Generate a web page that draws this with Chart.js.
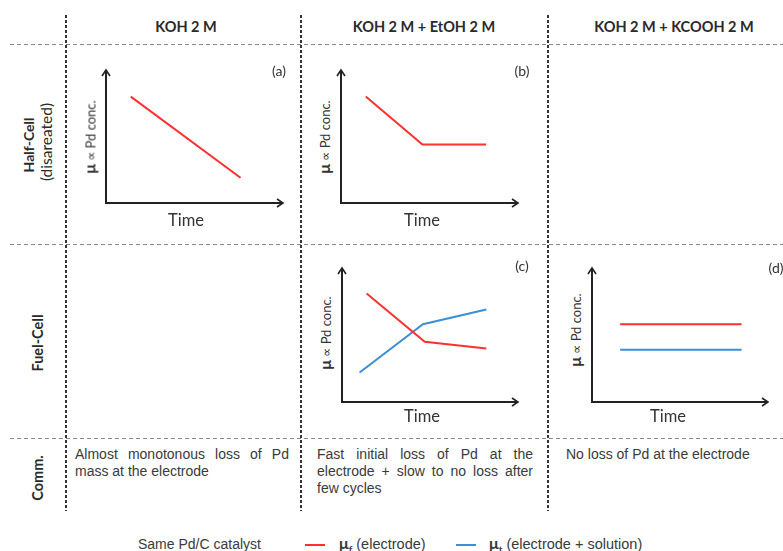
<!DOCTYPE html>
<html>
<head>
<meta charset="utf-8">
<script src="https://cdn.jsdelivr.net/npm/chart.js@4/dist/chart.umd.min.js"></script>
<style>
  html, body { margin:0; padding:0; background:#fff; }
  #root { position:relative; width:783px; height:551px; overflow:hidden; background:#fff; }
  .t { position:absolute; white-space:nowrap; color:#2a2a2a; }
  .hdr { font-family:Lato, "Open Sans", sans-serif; font-weight:700; font-size:14.5px; transform:translate(-50%,-50%); }
  .vert { transform:translate(-50%,-50%) rotate(-90deg); font-family:Lato, sans-serif; font-size:14.5px; }
  .time { font-family:Lato, sans-serif; font-size:16.5px; transform:translate(-50%,-50%); color:#333; }
  .ylab { font-family:Lato, sans-serif; font-size:13px; transform:translate(-50%,-50%) rotate(-90deg); color:#333; }
  .ylab b { font-size:16px; }
  .pl { font-family:Lato, sans-serif; font-size:14px; transform:translate(-50%,-50%); color:#333; }
  .com { font-family:"Liberation Sans", Arial, sans-serif; font-size:14px; color:#3a3a3a; }
  .jl { text-align:justify; text-align-last:justify; white-space:normal; }
  .hline { position:absolute; height:1px; background:repeating-linear-gradient(to right, #8a8a8a 0 4px, transparent 4px 7px); }
  .vline { position:absolute; width:2px; background:repeating-linear-gradient(to bottom, #333 0 3px, transparent 3px 5px); }
  canvas { position:absolute; }
  .leg { font-family:"Liberation Sans", Arial, sans-serif; font-size:14.5px; color:#3a3a3a; transform:translateY(-50%); }
  .leg b { font-family:Lato, sans-serif; font-size:16px; }
  .sw { position:absolute; height:2px; }
</style>
</head>
<body>
<div id="root"></div>
<script>
// ---------------- data ----------------
const columnHeaders = ['KOH 2 M', 'KOH 2 M + EtOH 2 M', 'KOH 2 M + KCOOH 2 M'];
const rowHeaders = ['Half-Cell', '(disareated)', 'Fuel-Cell', 'Comm.'];
const panelLabels = ['(a)', '(b)', '(c)', '(d)'];
const xAxisLabel = 'Time';
const yAxisLabel = '\u221D Pd conc.';
const comments = [
  ['Almost monotonous loss of Pd', 'mass at the electrode'],
  ['Fast initial loss of Pd at the', 'electrode + slow to no loss after', 'few cycles'],
  ['No loss of Pd at the electrode']
];
const legendTitle = 'Same Pd/C catalyst';
const seriesNames = ['(electrode)', '(electrode + solution)'];

// time (0-10) and μ (0-10) values read from the schematic
const aElectrodeTime = [1.4, 7.6];
const aElectrodeMu   = [8.0, 1.9];
const bElectrodeTime = [1.4, 4.6, 8.2];
const bElectrodeMu   = [8.0, 4.4, 4.4];
const cElectrodeTime = [1.4, 4.7, 8.2];
const cElectrodeMu   = [8.1, 4.5, 4.0];
const cTotalTime     = [1.0, 4.6, 8.2];
const cTotalMu       = [2.2, 5.8, 6.9];
const dElectrodeTime = [1.6, 8.5];
const dElectrodeMu   = [5.8, 5.8];
const dTotalTime     = [1.6, 8.5];
const dTotalMu       = [3.9, 3.9];

const RED = '#ff3030';
const BLUE = '#3a8fd8';

// ---------------- layout ----------------
const root = document.getElementById('root');
function addText(html, cls, x, y, extra) {
  const d = document.createElement('div');
  d.className = 't ' + cls;
  d.innerHTML = html;
  d.style.left = x + 'px';
  d.style.top = y + 'px';
  if (extra) Object.assign(d.style, extra);
  root.appendChild(d);
  return d;
}
function hline(y, x1, x2) {
  const d = document.createElement('div');
  d.className = 'hline';
  Object.assign(d.style, { left: x1 + 'px', top: y + 'px', width: (x2 - x1) + 'px' });
  root.appendChild(d);
}
function vline(x, y1, y2) {
  const d = document.createElement('div');
  d.className = 'vline';
  Object.assign(d.style, { left: (x - 1) + 'px', top: y1 + 'px', height: (y2 - y1) + 'px' });
  root.appendChild(d);
}

hline(44, 10, 783);
hline(244, 10, 783);
hline(438, 10, 783);
vline(66, 15, 511);
vline(301, 15, 511);
vline(548, 15, 511);

addText(columnHeaders[0], 'hdr', 186, 26);
addText(columnHeaders[1], 'hdr', 424, 26);
addText(columnHeaders[2], 'hdr', 674, 26);

addText(rowHeaders[0], 'vert', 28, 145, { fontWeight: 700, fontSize: '14px' });
addText(rowHeaders[1], 'vert', 46, 142, { fontSize: '15.5px' });
addText(rowHeaders[2], 'vert', 37, 343, { fontWeight: 700 });
addText(rowHeaders[3], 'vert', 37, 478, { fontWeight: 700 });

// comments
function commentBlock(lines, x, y, w) {
  lines.forEach((ln, i) => {
    const last = i === lines.length - 1;
    addText(ln, 'com' + (last ? '' : ' jl'), x, y + i * 17, { width: w + 'px' });
  });
}
commentBlock(comments[0], 75, 446, 214);
commentBlock(comments[1], 317, 446, 216);
commentBlock(comments[2], 566, 446, 200);

// legend
addText(legendTitle, 'leg', 138, 544, { fontSize: '14px' });
(function(){
  const s1 = document.createElement('div'); s1.className='sw';
  Object.assign(s1.style,{left:'305px',top:'544px',width:'20px',background:RED}); root.appendChild(s1);
  const s2 = document.createElement('div'); s2.className='sw';
  Object.assign(s2.style,{left:'456px',top:'544px',width:'20px',background:BLUE}); root.appendChild(s2);
})();
addText('<b>\u03BC<sub style="font-size:10px">f</sub></b> ' + seriesNames[0], 'leg', 339, 544);
addText('<b>\u03BC<sub style="font-size:10px">t</sub></b> ' + seriesNames[1], 'leg', 489, 544);

// ---------------- charts ----------------
const arrowAxes = {
  id: 'arrowAxes',
  afterDraw(chart) {
    const { ctx, scales } = chart;
    const x0 = scales.x.getPixelForValue(0), x1 = scales.x.getPixelForValue(10);
    const y0 = scales.y.getPixelForValue(0), y1 = scales.y.getPixelForValue(10);
    ctx.save();
    ctx.strokeStyle = '#222';
    ctx.lineWidth = 2;
    ctx.lineCap = 'butt';
    ctx.beginPath();
    ctx.moveTo(x0, y1); ctx.lineTo(x0, y0); ctx.lineTo(x1, y0);
    ctx.stroke();
    ctx.lineWidth = 1.6;
    ctx.beginPath();
    ctx.moveTo(x0 - 4, y1 + 6); ctx.lineTo(x0, y1); ctx.lineTo(x0 + 4, y1 + 6);
    ctx.moveTo(x1 - 6, y0 - 4); ctx.lineTo(x1, y0); ctx.lineTo(x1 - 6, y0 + 4);
    ctx.stroke();
    ctx.restore();
  }
};

function pts(xs, ys) { return xs.map((x, i) => ({ x, y: ys[i] })); }

function makePanel(box, seriesList) {
  const P = 8;
  const c = document.createElement('canvas');
  const w = box.R - box.L + 2 * P, h = box.B - box.T + 2 * P;
  c.width = w; c.height = h;
  Object.assign(c.style, { left: (box.L - P) + 'px', top: (box.T - P) + 'px', width: w + 'px', height: h + 'px' });
  root.appendChild(c);
  new Chart(c, {
    type: 'line',
    data: {
      datasets: seriesList.map(s => ({
        data: pts(s.x, s.y), borderColor: s.color, borderWidth: 2,
        pointRadius: 0, tension: 0, fill: false
      }))
    },
    options: {
      responsive: false, animation: false, devicePixelRatio: 1,
      layout: { padding: P },
      plugins: { legend: { display: false }, tooltip: { enabled: false } },
      scales: {
        x: { type: 'linear', min: 0, max: 10, display: false },
        y: { type: 'linear', min: 0, max: 10, display: false }
      }
    },
    plugins: [arrowAxes]
  });
}

makePanel({ L: 106, R: 283, T: 70, B: 203 }, [{ x: aElectrodeTime, y: aElectrodeMu, color: RED }]);
makePanel({ L: 341, R: 518, T: 70, B: 203 }, [{ x: bElectrodeTime, y: bElectrodeMu, color: RED }]);
makePanel({ L: 342, R: 518, T: 268, B: 402 }, [
  { x: cElectrodeTime, y: cElectrodeMu, color: RED },
  { x: cTotalTime, y: cTotalMu, color: BLUE }
]);
makePanel({ L: 592, R: 768, T: 268, B: 402 }, [
  { x: dElectrodeTime, y: dElectrodeMu, color: RED },
  { x: dTotalTime, y: dTotalMu, color: BLUE }
]);

// axis titles and panel letters
const ylab = '<b>\u03BC</b> ' + yAxisLabel;
addText(xAxisLabel, 'time', 186, 220);
addText(xAxisLabel, 'time', 422, 220);
addText(xAxisLabel, 'time', 422, 416);
addText(xAxisLabel, 'time', 668, 416);
addText(ylab, 'ylab', 89, 137);
addText(ylab, 'ylab', 323, 137);
addText(ylab, 'ylab', 324, 333);
addText(ylab, 'ylab', 574, 330);
addText(panelLabels[0], 'pl', 279, 70);
addText(panelLabels[1], 'pl', 522, 70);
addText(panelLabels[2], 'pl', 522, 265);
addText(panelLabels[3], 'pl', 776, 267);
</script>
</body>
</html>
